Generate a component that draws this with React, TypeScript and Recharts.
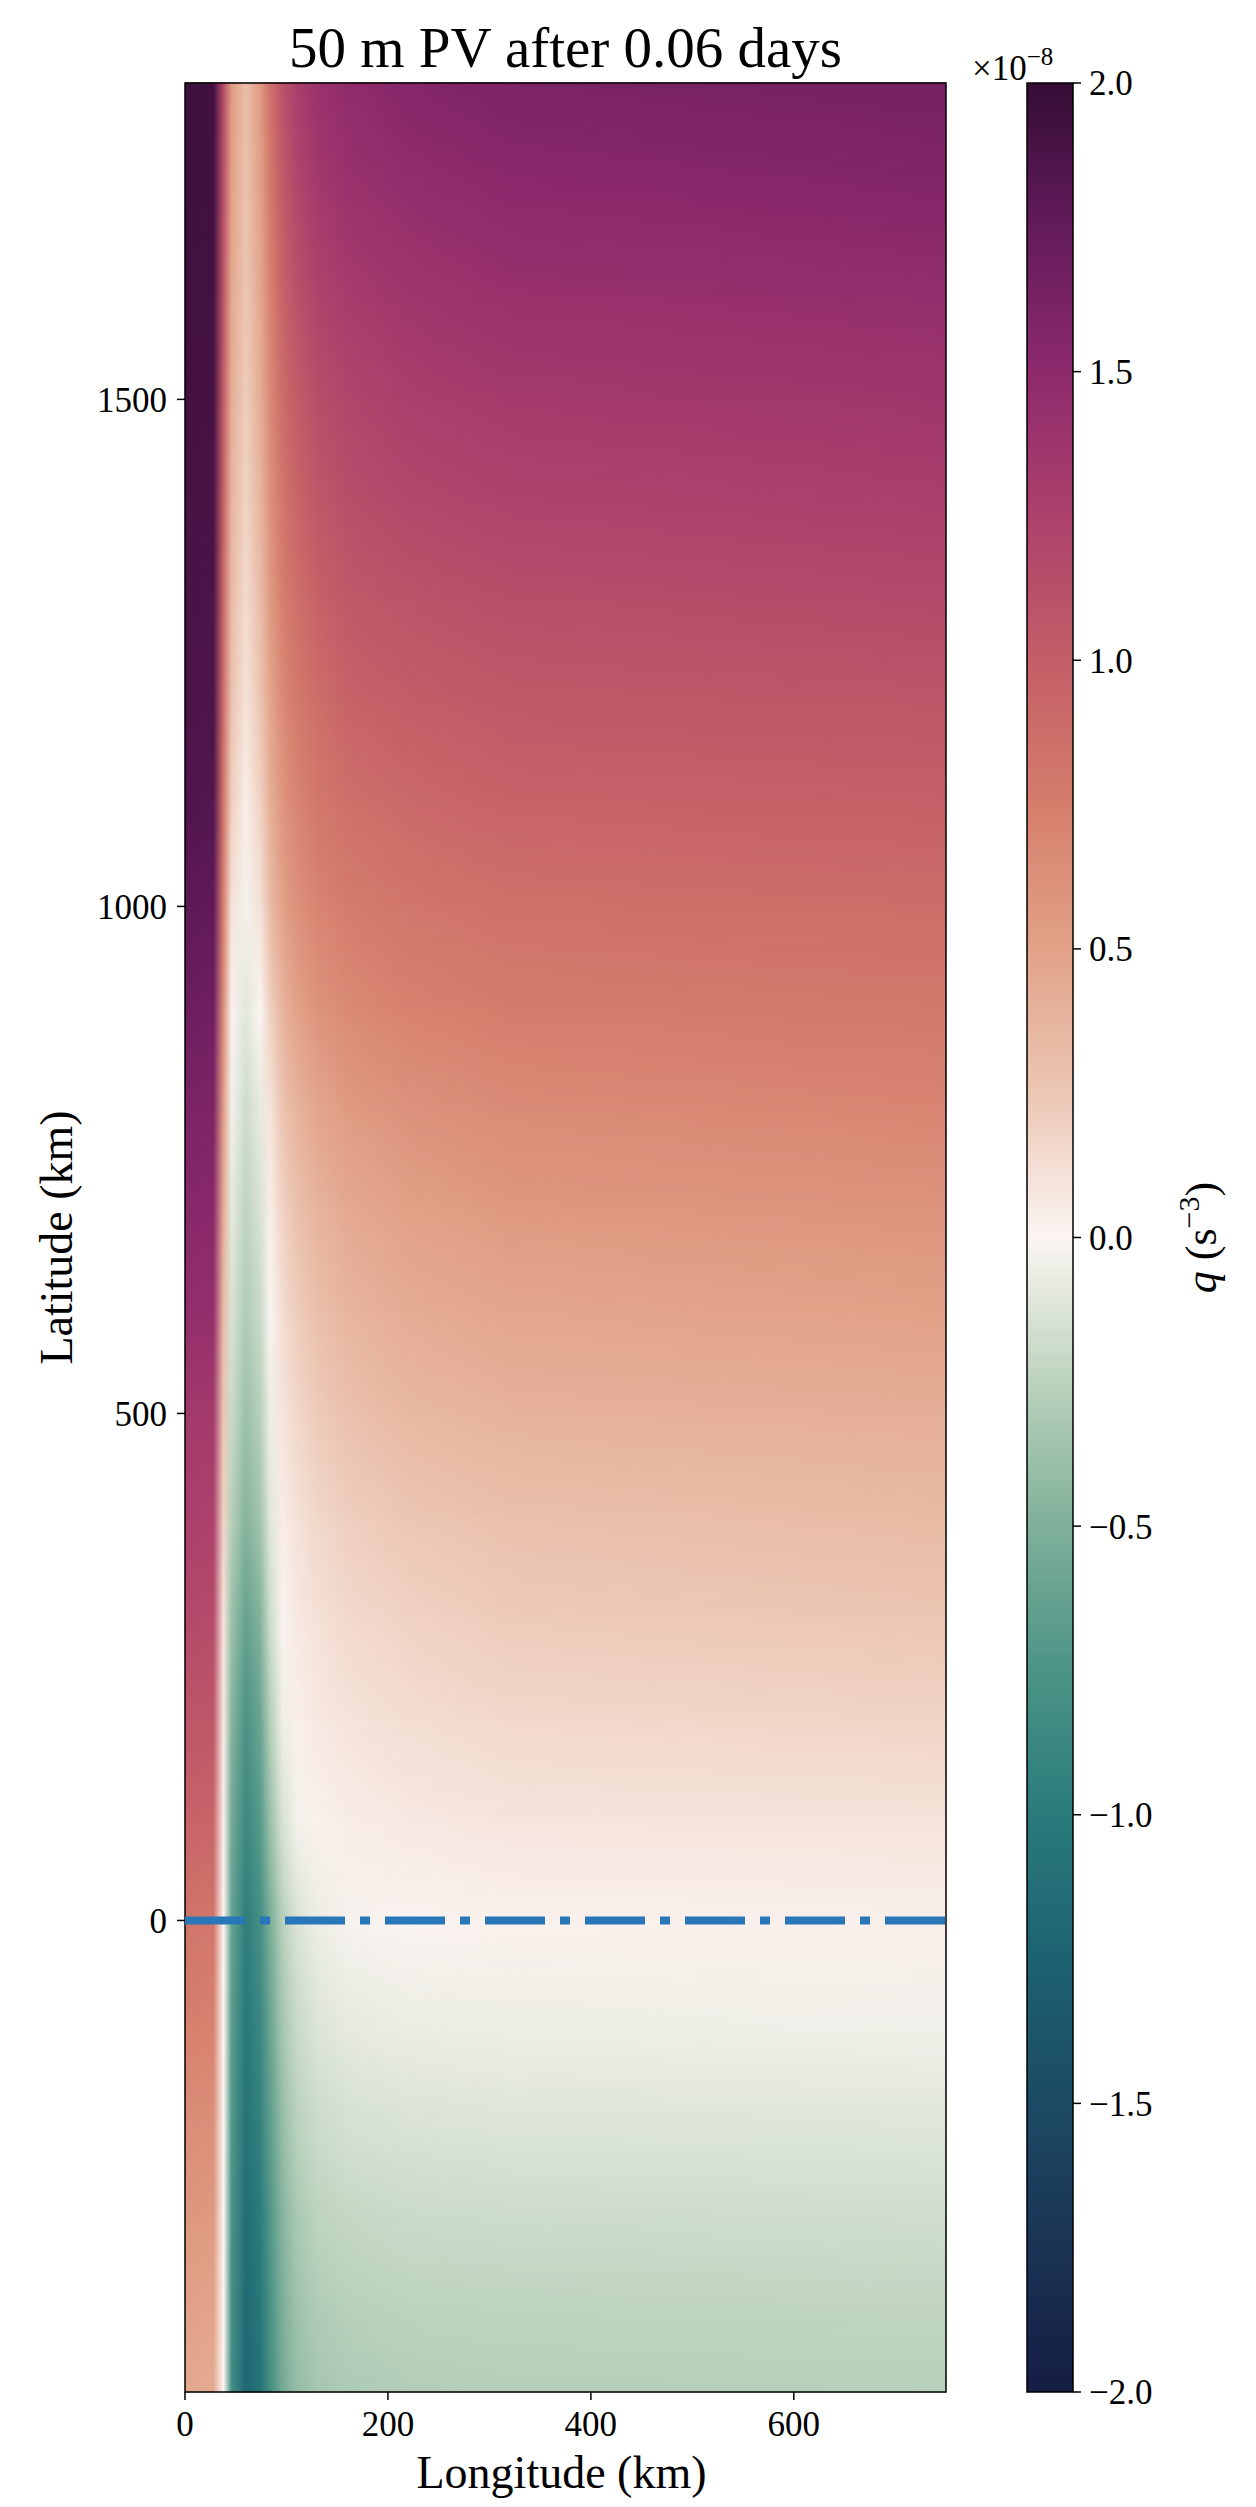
import { ComposedChart, XAxis, YAxis, ReferenceArea, ReferenceLine, Label } from "recharts";

const LON_MAX = 750;
const LAT_MIN = -465;
const LAT_MAX = 1812;

// longitudes (km) where each latitude row is sampled
const lonStops = [0, 28, 38, 46, 60, 74, 84, 96, 110, 130, 160, 220, 320, 750];

// latitudes (km) of the sampled rows
const latRows = [
  -465, -400, -300, -200, -100, 0, 100, 200, 300, 400, 500, 600, 700, 800, 900,
  1000, 1100, 1200, 1300, 1400, 1500, 1600, 1700, 1812,
];

// PV q (x1e-8 s^-3), one row per latRows entry, one column per lonStops entry
const qField = [
  [0.46, 0.44, 0.0, -0.82, -1.2, -1.07, -0.8, -0.55, -0.41, -0.34, -0.31, -0.29, -0.28, -0.27],
  [0.5, 0.48, 0.0, -0.8, -1.18, -1.04, -0.78, -0.52, -0.38, -0.31, -0.28, -0.26, -0.25, -0.24],
  [0.57, 0.55, 0.0, -0.76, -1.13, -0.99, -0.73, -0.47, -0.33, -0.25, -0.22, -0.2, -0.19, -0.18],
  [0.65, 0.63, 0.0, -0.72, -1.08, -0.93, -0.66, -0.41, -0.26, -0.19, -0.15, -0.13, -0.12, -0.11],
  [0.74, 0.72, 0.0, -0.68, -1.02, -0.87, -0.6, -0.34, -0.2, -0.12, -0.08, -0.06, -0.05, -0.04],
  [0.83, 0.81, 0.0, -0.63, -0.96, -0.8, -0.52, -0.27, -0.13, -0.06, -0.02, 0.01, 0.02, 0.03],
  [0.96, 0.94, 0.03, -0.56, -0.86, -0.7, -0.38, -0.14, -0.03, 0.02, 0.05, 0.07, 0.09, 0.1],
  [1.08, 1.06, 0.06, -0.47, -0.76, -0.6, -0.28, -0.05, 0.03, 0.07, 0.1, 0.13, 0.16, 0.18],
  [1.18, 1.16, 0.1, -0.38, -0.62, -0.48, -0.18, 0.01, 0.07, 0.11, 0.15, 0.19, 0.23, 0.26],
  [1.27, 1.25, 0.18, -0.27, -0.47, -0.35, -0.1, 0.05, 0.11, 0.16, 0.21, 0.26, 0.3, 0.34],
  [1.34, 1.32, 0.25, -0.2, -0.38, -0.27, -0.05, 0.09, 0.16, 0.23, 0.29, 0.35, 0.39, 0.42],
  [1.46, 1.44, 0.33, -0.14, -0.3, -0.2, -0.01, 0.13, 0.22, 0.3, 0.37, 0.43, 0.47, 0.51],
  [1.54, 1.52, 0.42, -0.09, -0.24, -0.14, 0.04, 0.19, 0.29, 0.38, 0.45, 0.51, 0.56, 0.6],
  [1.61, 1.59, 0.52, -0.04, -0.18, -0.08, 0.1, 0.27, 0.38, 0.47, 0.55, 0.61, 0.66, 0.7],
  [1.7, 1.68, 0.62, 0.02, -0.1, 0.0, 0.2, 0.38, 0.5, 0.6, 0.67, 0.72, 0.76, 0.79],
  [1.78, 1.76, 0.72, 0.1, -0.03, 0.11, 0.33, 0.5, 0.62, 0.7, 0.76, 0.81, 0.85, 0.88],
  [1.85, 1.83, 0.8, 0.2, 0.04, 0.19, 0.41, 0.58, 0.7, 0.79, 0.86, 0.91, 0.95, 0.98],
  [1.88, 1.86, 0.85, 0.27, 0.1, 0.26, 0.48, 0.66, 0.78, 0.87, 0.95, 1.0, 1.04, 1.07],
  [1.89, 1.87, 0.9, 0.33, 0.14, 0.32, 0.55, 0.74, 0.86, 0.96, 1.04, 1.09, 1.13, 1.17],
  [1.9, 1.88, 0.95, 0.38, 0.18, 0.37, 0.61, 0.81, 0.94, 1.05, 1.13, 1.19, 1.23, 1.27],
  [1.92, 1.9, 1.0, 0.42, 0.22, 0.42, 0.67, 0.88, 1.02, 1.13, 1.21, 1.27, 1.32, 1.36],
  [1.93, 1.91, 1.05, 0.46, 0.25, 0.46, 0.72, 0.95, 1.1, 1.22, 1.3, 1.36, 1.41, 1.45],
  [1.94, 1.92, 1.1, 0.5, 0.28, 0.5, 0.78, 1.02, 1.19, 1.31, 1.39, 1.45, 1.5, 1.55],
  [1.95, 1.93, 1.15, 0.55, 0.32, 0.55, 0.85, 1.1, 1.28, 1.4, 1.48, 1.55, 1.6, 1.65],
];

const lonTicks = [0, 200, 400, 600];
const latTicks = [0, 500, 1000, 1500];
const cbarTicks = [-2, -1.5, -1, -0.5, 0, 0.5, 1, 1.5, 2];

// cmocean "curl"-like colour scale
const curl: [number, string][] = [
  [-2.0, "#151d44"],
  [-1.75, "#1a3354"],
  [-1.5, "#1c4a64"],
  [-1.25, "#1d6271"],
  [-1.0, "#2a7b7b"],
  [-0.75, "#4c9486"],
  [-0.5, "#7fb09a"],
  [-0.25, "#bcd3bd"],
  [0.0, "#fbf5f2"],
  [0.25, "#ecc7b4"],
  [0.5, "#e2a288"],
  [0.75, "#d57e6c"],
  [1.0, "#c45e67"],
  [1.25, "#ad416c"],
  [1.5, "#8d2a6c"],
  [1.75, "#631b5b"],
  [2.0, "#340d35"],
];

const FONT = "'Liberation Serif', 'DejaVu Serif', serif";

function hexToRgb(h: string) {
  return [1, 3, 5].map((i) => parseInt(h.slice(i, i + 2), 16));
}

function qColor(v: number) {
  const c = Math.max(-2, Math.min(2, v));
  for (let i = 0; i < curl.length - 1; i++) {
    const [v0, h0] = curl[i];
    const [v1, h1] = curl[i + 1];
    if (c >= v0 && c <= v1) {
      const t = (c - v0) / (v1 - v0);
      const a = hexToRgb(h0);
      const b = hexToRgb(h1);
      const rgb = a.map((x, j) => Math.round(x + (b[j] - x) * t));
      return `rgb(${rgb.join(",")})`;
    }
  }
  return curl[curl.length - 1][1];
}

const fmtCbar = (v: number) => (v < 0 ? "\u2212" : "") + Math.abs(v).toFixed(1);

const tickStyle = { fill: "#000", fontSize: 35, fontFamily: FONT };
const tickLineStyle = { stroke: "#000", strokeWidth: 1.5 };

function FieldChart() {
  return (
    <ComposedChart width={1256} height={2507} margin={{ top: 83, right: 310, bottom: 55, left: 105 }}>
      <defs>
        {latRows.map((lat, i) => (
          <linearGradient key={lat} id={`qrow${i}`} x1="0" y1="0" x2="1" y2="0">
            {lonStops.map((lon, j) => (
              <stop key={lon} offset={lon / LON_MAX} stopColor={qColor(qField[i][j])} />
            ))}
          </linearGradient>
        ))}
        <linearGradient id="fadeGrad" x1="0" y1="0" x2="0" y2="1">
          <stop offset={0} stopColor="#fff" />
          <stop offset={1} stopColor="#000" />
        </linearGradient>
        <mask id="fadeUp" maskContentUnits="objectBoundingBox">
          <rect x={0} y={0} width={1} height={1} fill="url(#fadeGrad)" />
        </mask>
      </defs>
      <XAxis
        type="number"
        dataKey="lon"
        domain={[0, LON_MAX]}
        ticks={lonTicks}
        allowDataOverflow
        axisLine={false}
        tickSize={8}
        tickMargin={11}
        tickLine={tickLineStyle}
        tick={tickStyle}
        height={60}
      >
        <Label
          content={(p: any) => {
            const { x, y, width } = p.viewBox;
            return (
              <text x={x + width / 2 - 4} y={y + 96} textAnchor="middle" fontSize={46} fontFamily={FONT} fill="#000">
                Longitude (km)
              </text>
            );
          }}
        />
      </XAxis>
      <YAxis
        type="number"
        dataKey="lat"
        domain={[LAT_MIN, LAT_MAX]}
        ticks={latTicks}
        allowDataOverflow
        axisLine={false}
        width={80}
        tickSize={8}
        tickMargin={10}
        tickLine={tickLineStyle}
        tick={tickStyle}
      >
        <Label
          content={(p: any) => {
            const { x, y, height } = p.viewBox;
            const bx = x - 33;
            const cy = y + height / 2;
            return (
              <text
                x={bx}
                y={cy}
                transform={`rotate(-90 ${bx} ${cy})`}
                textAnchor="middle"
                fontSize={46}
                fontFamily={FONT}
                fill="#000"
              >
                Latitude (km)
              </text>
            );
          }}
        />
      </YAxis>
      {latRows.slice(0, -1).map((lat, k) => (
        <ReferenceArea
          key={`base${lat}`}
          x1={0}
          x2={LON_MAX}
          y1={lat}
          y2={latRows[k + 1]}
          shape={(p: any) => (
            <rect x={p.x} y={p.y - 0.5} width={p.width} height={p.height + 1} fill={`url(#qrow${k})`} />
          )}
        />
      ))}
      {latRows.slice(0, -1).map((lat, k) => (
        <ReferenceArea
          key={`blend${lat}`}
          x1={0}
          x2={LON_MAX}
          y1={lat}
          y2={latRows[k + 1]}
          shape={(p: any) => (
            <rect
              x={p.x}
              y={p.y}
              width={p.width}
              height={p.height}
              fill={`url(#qrow${k + 1})`}
              mask="url(#fadeUp)"
            />
          )}
        />
      ))}
      <ReferenceLine y={0} stroke="#2877b8" strokeWidth={8} strokeDasharray="60 15 10 15" />
      <ReferenceArea
        x1={0}
        x2={LON_MAX}
        y1={LAT_MIN}
        y2={LAT_MAX}
        fill="none"
        fillOpacity={0}
        stroke="#000"
        strokeWidth={1.5}
      >
        <Label value="50 m PV after 0.06 days" position="top" offset={16} fontSize={57} fontFamily={FONT} fill="#000" />
      </ReferenceArea>
    </ComposedChart>
  );
}

function ColorbarChart() {
  return (
    <ComposedChart width={1256} height={2507} margin={{ top: 83, right: 23, bottom: 115, left: 1027 }}>
      <defs>
        <linearGradient id="cbarGrad" x1="0" y1="1" x2="0" y2="0">
          {curl.map(([v, c]) => (
            <stop key={v} offset={(v + 2) / 4} stopColor={c} />
          ))}
        </linearGradient>
      </defs>
      <XAxis
        type="number"
        dataKey="x"
        domain={[0, 1]}
        allowDataOverflow
        height={0}
        tick={false}
        axisLine={false}
        tickLine={false}
      />
      <YAxis
        type="number"
        orientation="right"
        domain={[-2, 2]}
        ticks={cbarTicks}
        tickFormatter={fmtCbar}
        allowDataOverflow
        axisLine={false}
        width={160}
        tickSize={8}
        tickMargin={8}
        tickLine={tickLineStyle}
        tick={tickStyle}
      >
        <Label
          content={(p: any) => {
            const { x, y, height } = p.viewBox;
            const bx = x + 143;
            const cy = y + height / 2;
            return (
              <text
                x={bx}
                y={cy}
                transform={`rotate(-90 ${bx} ${cy})`}
                textAnchor="middle"
                fontSize={44}
                fontFamily={FONT}
                fill="#000"
              >
                <tspan fontStyle="italic">q</tspan>
                <tspan> (s</tspan>
                <tspan dy={-17} fontSize={30}>
                  {"\u22123"}
                </tspan>
                <tspan dy={17}>)</tspan>
              </text>
            );
          }}
        />
      </YAxis>
      <ReferenceArea
        y1={-2}
        y2={2}
        ifOverflow="visible"
        shape={(p: any) => (
          <rect x={p.x} y={p.y} width={p.width} height={p.height} fill="url(#cbarGrad)" stroke="#000" strokeWidth={1.5} />
        )}
      >
        <Label
          content={(p: any) => {
            const { x, y } = p.viewBox;
            return (
              <text x={x - 55} y={y - 3} fontSize={35} fontFamily={FONT} fill="#000">
                ×10
                <tspan dy={-15} fontSize={25}>
                  {"\u22128"}
                </tspan>
              </text>
            );
          }}
        />
      </ReferenceArea>
    </ComposedChart>
  );
}

export default function App() {
  return (
    <div style={{ position: "absolute", left: 0, top: 0, width: 1256, height: 2507, background: "#fff" }}>
      <div style={{ position: "absolute", left: 0, top: 0 }}>
        <FieldChart />
      </div>
      <div style={{ position: "absolute", left: 0, top: 0 }}>
        <ColorbarChart />
      </div>
    </div>
  );
}
